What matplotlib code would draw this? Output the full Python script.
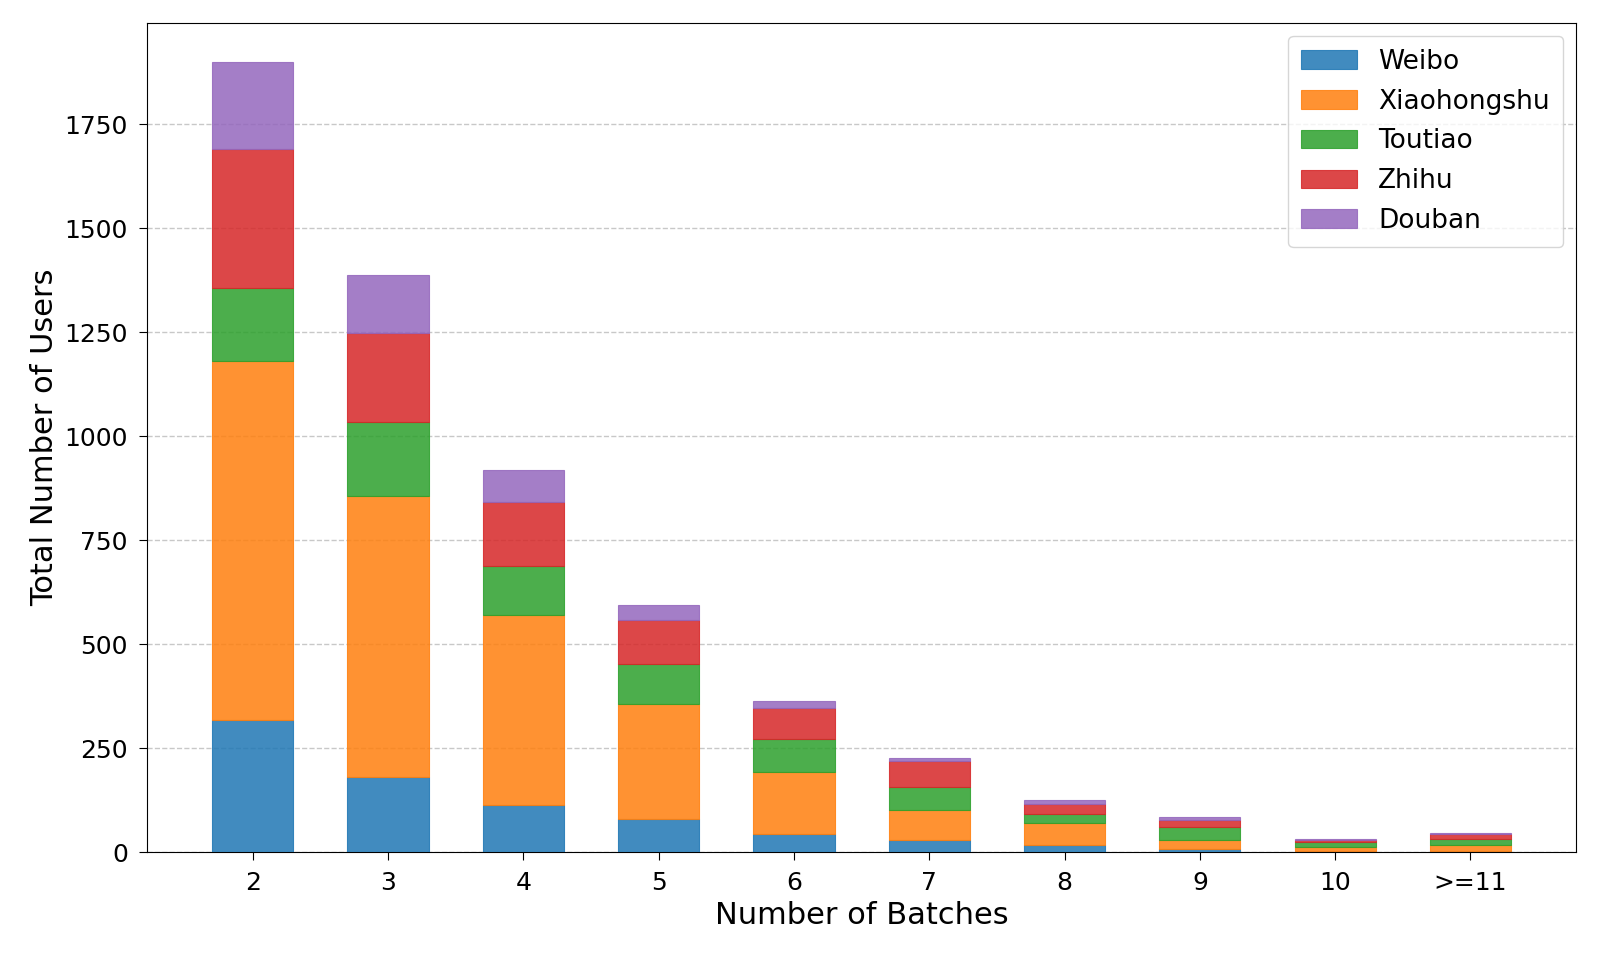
import matplotlib
matplotlib.use("Agg")
import matplotlib.pyplot as plt
import numpy as np

# ── Data ──────────────────────────────────────────────────────────────────────
batches     = ["2", "3", "4", "5", "6", "7", "8", "9", "10", ">=11"]
weibo       = [318, 180, 113, 80, 43, 30, 16, 8, 2, 3]
xiaohongshu = [862, 676, 458, 277, 150, 71, 54, 21, 11, 15]
toutiao     = [176, 178, 118, 94, 78, 56, 22, 30, 11, 14]
zhihu       = [335, 214, 153, 108, 75, 62, 23, 17, 5, 11]
douban      = [209, 140, 76, 34, 18, 8, 10, 8, 2, 2]

platforms = ["Weibo", "Xiaohongshu", "Toutiao", "Zhihu", "Douban"]
series    = [weibo, xiaohongshu, toutiao, zhihu, douban]
colors    = ["#1f77b4", "#ff7f0e", "#2ca02c", "#d62728", "#9467bd"]

fig = plt.figure(figsize=(16, 9.6), dpi=100)
ax = fig.add_axes([0.092, 0.1125, 0.893, 0.864])

x = np.arange(len(batches))
bottom = np.zeros(len(batches))
for name, vals, c in zip(platforms, series, colors):
    vals = np.array(vals, dtype=float)
    ax.bar(x, vals, width=0.6, bottom=bottom, color=c, alpha=0.85,
           edgecolor=c, linewidth=0.8, label=name, zorder=3)
    bottom += vals

ax.set_xticks(x)
ax.set_xticklabels(batches)
ax.tick_params(axis="both", labelsize=18, length=5.5, pad=8.5)
ax.set_xlabel("Number of Batches", fontsize=22)
ax.set_ylabel("Total Number of Users", fontsize=22)
ax.yaxis.grid(True, linestyle="--", color="#bbbbbb", alpha=0.8, linewidth=1, zorder=0)
ax.set_axisbelow(True)
ax.legend(loc="upper right", fontsize=19, handlelength=2.1, borderpad=0.5,
          labelspacing=0.52)

fig.savefig("out.png", dpi=100)
